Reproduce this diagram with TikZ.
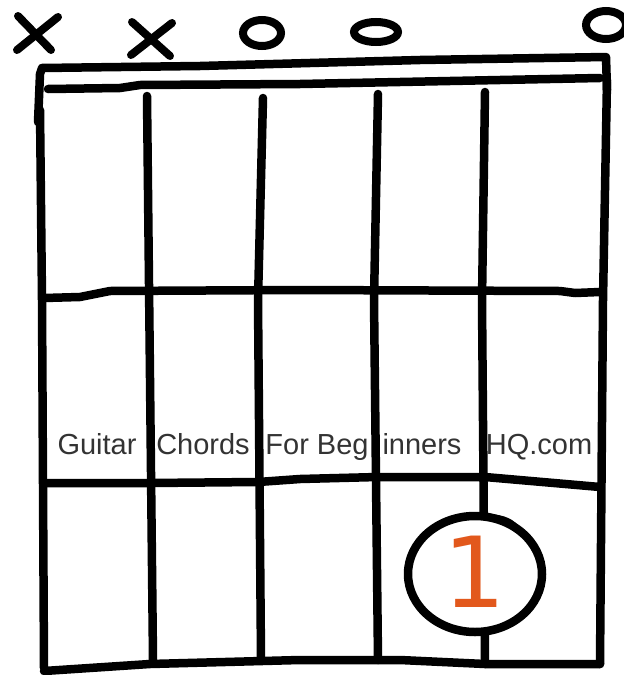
\documentclass[tikz,border=0pt]{standalone}
\usepackage{fontspec}
\newfontfamily\handfont{Liberation Sans}
\newfontfamily\digitfont{DejaVu Sans}
\definecolor{fingerorange}{HTML}{E2581C}
\definecolor{inkgray}{HTML}{333333}
\tikzset{
  ink/.style={line width=8.5pt, line cap=round, line join=round, black},
  mark ink/.style={line width=8pt, line cap=round, black},
  labeltext/.style={font=\handfont\fontsize{29}{30}\selectfont, text=inkgray, anchor=base, inner sep=0pt},
}
\begin{document}
\begin{tikzpicture}[x=1pt,y=-1pt]
\useasboundingbox (0,0) rectangle (624,675);
% top markers
\draw[mark ink] (18,16) -- (51,50);
\draw[mark ink] (58,17) -- (17,50);
\draw[mark ink] (132,22) -- (170,56);
\draw[mark ink] (172,23) -- (131,55);
\draw[mark ink] (262,33) ellipse [x radius=19, y radius=13];
\draw[mark ink] (376,32) ellipse [x radius=22, y radius=10];
\draw[mark ink] (606,25) ellipse [x radius=20, y radius=14];
% frame top and nut
\draw[ink] (38,122) -- (40,74) -- (42,68) -- (200,66) -- (420,60) -- (606,57) -- (607,90);
\draw[ink] (48,89) -- (120,88) -- (140,85) -- (300,84) -- (600,78);
% strings
\coordinate (s1t) at (40,110); \coordinate (s1b) at (44,668);
\coordinate (s2t) at (147,96); \coordinate (s2b) at (153,660);
\coordinate (s3t) at (263,98); \coordinate (s3b) at (261,659);
\coordinate (s4t) at (378,94); \coordinate (s4b) at (378,660);
\coordinate (s5t) at (485,92); \coordinate (s5b) at (485,664);
\coordinate (s6t) at (607,80); \coordinate (s6b) at (600,664);
\draw[ink] (s1t) -- (42,300) -- (s1b);
\draw[ink] (s2t) -- (s2b);
\draw[ink] (s3t) -- (258,300) -- (s3b);
\draw[ink] (s4t) -- (374,300) -- (s4b);
\draw[ink] (s5t) -- (482,300) -- (s5b);
\draw[ink] (s6t) -- (603,300) -- (s6b);
% frets
\draw[ink] (44,298) -- (80,297) -- (110,291) -- (300,290) -- (560,291) -- (575,293) -- (600,292);
\draw[ink] (44,483) -- (150,483) -- (258,482) -- (300,479) -- (378,477) -- (485,477) -- (600,487);
\draw[ink] (44,671) -- (150,664) -- (300,660) -- (400,660) -- (485,664) -- (600,664) -- (s6b);
% label
\node[labeltext] (t1) at (97,454) {Guitar};
\node[labeltext] (t2) at (203,454) {Chords};
\node[labeltext] (t3) at (317,454) {For Beg};
\node[labeltext] (t4) at (422,454) {inners};
\node[labeltext] (t5) at (539,454) {HQ.com};
% finger
\draw[ink, fill=white] (475,574) ellipse [x radius=67, y radius=58];
\fill[black] (470,517) -- (486,514) .. controls (505,514) and (515,520) .. (520,528) .. controls (505,520) and (490,518) .. (470,518) -- cycle;
\node[font=\digitfont\fontsize{98}{100}\selectfont, text=fingerorange, inner sep=0pt] (one) at (475,572) {1};
\end{tikzpicture}
\end{document}
